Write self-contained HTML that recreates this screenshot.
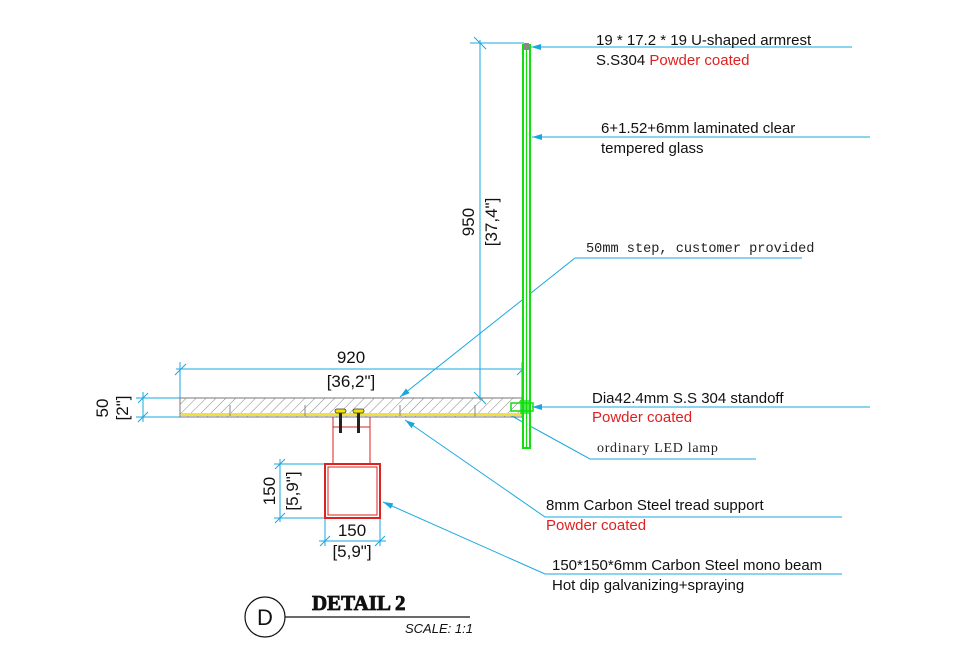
<!DOCTYPE html>
<html><head><meta charset="utf-8"><style>
html,body{margin:0;padding:0;background:#fff;}
svg{display:block}
text{font-family:"Liberation Sans",sans-serif;}
</style></head><body>
<svg width="962" height="666" viewBox="0 0 962 666" xmlns="http://www.w3.org/2000/svg">
<defs>
<pattern id="h" width="7" height="7" patternUnits="userSpaceOnUse" patternTransform="rotate(45)">
<line x1="0" y1="0" x2="0" y2="7" stroke="#777" stroke-width="0.9"/>
</pattern>
<marker id="a" markerWidth="10" markerHeight="6" refX="10" refY="3" orient="auto" markerUnits="userSpaceOnUse"><path d="M0,0 L10,3 L0,6 z" fill="#1aa7e0"/></marker>
</defs>
<g stroke="#1aa7e0" stroke-width="1" fill="none">
<line x1="480" y1="40" x2="480" y2="400"/>
<line x1="470" y1="43" x2="524" y2="43"/>
<line x1="474" y1="37" x2="486" y2="49"/>
<line x1="474" y1="392" x2="486" y2="404"/>
<line x1="176" y1="369" x2="526" y2="369"/>
<line x1="180" y1="362" x2="180" y2="398"/>
<line x1="522" y1="362" x2="522" y2="398"/>
<line x1="175" y1="375" x2="186" y2="364"/>
<line x1="517" y1="375" x2="528" y2="364"/>
<line x1="143" y1="392" x2="143" y2="422"/>
<line x1="136" y1="398" x2="180" y2="398"/>
<line x1="136" y1="417" x2="180" y2="417"/>
<line x1="138" y1="403" x2="148" y2="393"/>
<line x1="138" y1="422" x2="148" y2="412"/>
<line x1="280" y1="459" x2="280" y2="522"/>
<line x1="274" y1="464" x2="324" y2="464"/>
<line x1="274" y1="518" x2="324" y2="518"/>
<line x1="275" y1="469" x2="285" y2="459"/>
<line x1="275" y1="523" x2="285" y2="513"/>
<line x1="319" y1="541" x2="386" y2="541"/>
<line x1="325" y1="519" x2="325" y2="546"/>
<line x1="380" y1="519" x2="380" y2="546"/>
<line x1="320" y1="546" x2="330" y2="536"/>
<line x1="375" y1="546" x2="385" y2="536"/>
<line x1="852" y1="47" x2="531" y2="47" marker-end="url(#a)"/>
<line x1="870" y1="137" x2="532" y2="137" marker-end="url(#a)"/>
<polyline points="802,258 575,258 400,397" marker-end="url(#a)"/>
<line x1="870" y1="407" x2="532" y2="407" marker-end="url(#a)"/>
<polyline points="756,459 590,459 510,415"/>
<polyline points="842,517 545,517 405,420" marker-end="url(#a)"/>
<polyline points="842,574 545,574 383,502" marker-end="url(#a)"/>
</g>
<rect x="180" y="398" width="342" height="19" fill="url(#h)" stroke="#777" stroke-width="1"/>
<rect x="181" y="413" width="340" height="3" fill="#f0e040"/>
<g stroke="#888" stroke-width="1">
<line x1="230" y1="405" x2="230" y2="416"/><line x1="305" y1="405" x2="305" y2="416"/>
<line x1="400" y1="405" x2="400" y2="416"/><line x1="475" y1="405" x2="475" y2="416"/>
</g>
<rect x="523" y="45" width="7" height="403" fill="#fff" stroke="#11dd11" stroke-width="2"/>
<line x1="526.5" y1="45" x2="526.5" y2="448" stroke="#11dd11" stroke-width="1.2"/>
<rect x="524" y="43" width="5" height="7" fill="#888"/>
<rect x="511" y="403" width="22" height="8" fill="none" stroke="#11dd11" stroke-width="1.5"/>
<rect x="520" y="400" width="10" height="14" fill="#11dd11" opacity="0.7"/>
<g stroke="#d22" stroke-width="1" fill="none">
<line x1="333" y1="417" x2="333" y2="464"/><line x1="370" y1="417" x2="370" y2="464"/>
<line x1="333" y1="427" x2="370" y2="427"/>
<rect x="325" y="464" width="55" height="54" stroke-width="2"/>
<rect x="328" y="467" width="49" height="48"/>
</g>
<g fill="#222"><rect x="339" y="413" width="3" height="20"/><rect x="357" y="413" width="3" height="20"/></g>
<g fill="#f2e200" stroke="#333" stroke-width="0.8"><rect x="335" y="409" width="11" height="4" rx="2"/><rect x="353" y="409" width="11" height="4" rx="2"/></g>
<g font-size="17" fill="#111">
<text x="351" y="363" text-anchor="middle">920</text>
<text x="351" y="387" text-anchor="middle">[36,2"]</text>
<text x="352" y="536" text-anchor="middle">150</text>
<text x="352" y="557" text-anchor="middle">[5,9"]</text>
<text transform="translate(474,222) rotate(-90)" text-anchor="middle">950</text>
<text transform="translate(497,222) rotate(-90)" text-anchor="middle">[37,4"]</text>
<text transform="translate(108,408) rotate(-90)" text-anchor="middle">50</text>
<text transform="translate(128,408) rotate(-90)" text-anchor="middle">[2"]</text>
<text transform="translate(275,491) rotate(-90)" text-anchor="middle">150</text>
<text transform="translate(298,491) rotate(-90)" text-anchor="middle">[5,9"]</text>
</g>
<g font-size="15" fill="#111">
<text x="596" y="45">19 * 17.2 * 19 U-shaped armrest</text>
<text x="596" y="65">S.S304 <tspan fill="#e02020">Powder coated</tspan></text>
<text x="601" y="133">6+1.52+6mm laminated clear</text>
<text x="601" y="153">tempered glass</text>
<text x="592" y="403">Dia42.4mm S.S 304 standoff</text>
<text x="592" y="422" fill="#e02020">Powder coated</text>
<text x="546" y="510">8mm Carbon Steel tread support</text>
<text x="546" y="530" fill="#e02020">Powder coated</text>
<text x="552" y="570">150*150*6mm Carbon Steel mono beam</text>
<text x="552" y="590">Hot dip galvanizing+spraying</text>
</g>
<text x="586" y="252" font-size="13.6" fill="#222" style="font-family:'Liberation Mono',monospace">50mm step, customer provided</text>
<text x="597" y="452" font-size="14" fill="#222" style="font-family:'Liberation Serif',serif;letter-spacing:0.7px">ordinary LED lamp</text>
<circle cx="265" cy="617" r="20" fill="none" stroke="#111" stroke-width="1.2"/>
<text x="265" y="625" font-size="22" text-anchor="middle" fill="#111">D</text>
<line x1="285" y1="617" x2="470" y2="617" stroke="#111" stroke-width="1.2"/>
<text x="312" y="610" font-size="21" font-weight="bold" fill="#111" stroke="#111" stroke-width="0.8" style="font-family:'Liberation Serif',serif">DETAIL 2</text>
<text x="405" y="633" font-size="13" font-style="italic" fill="#111">SCALE: 1:1</text>
</svg>
</body></html>
